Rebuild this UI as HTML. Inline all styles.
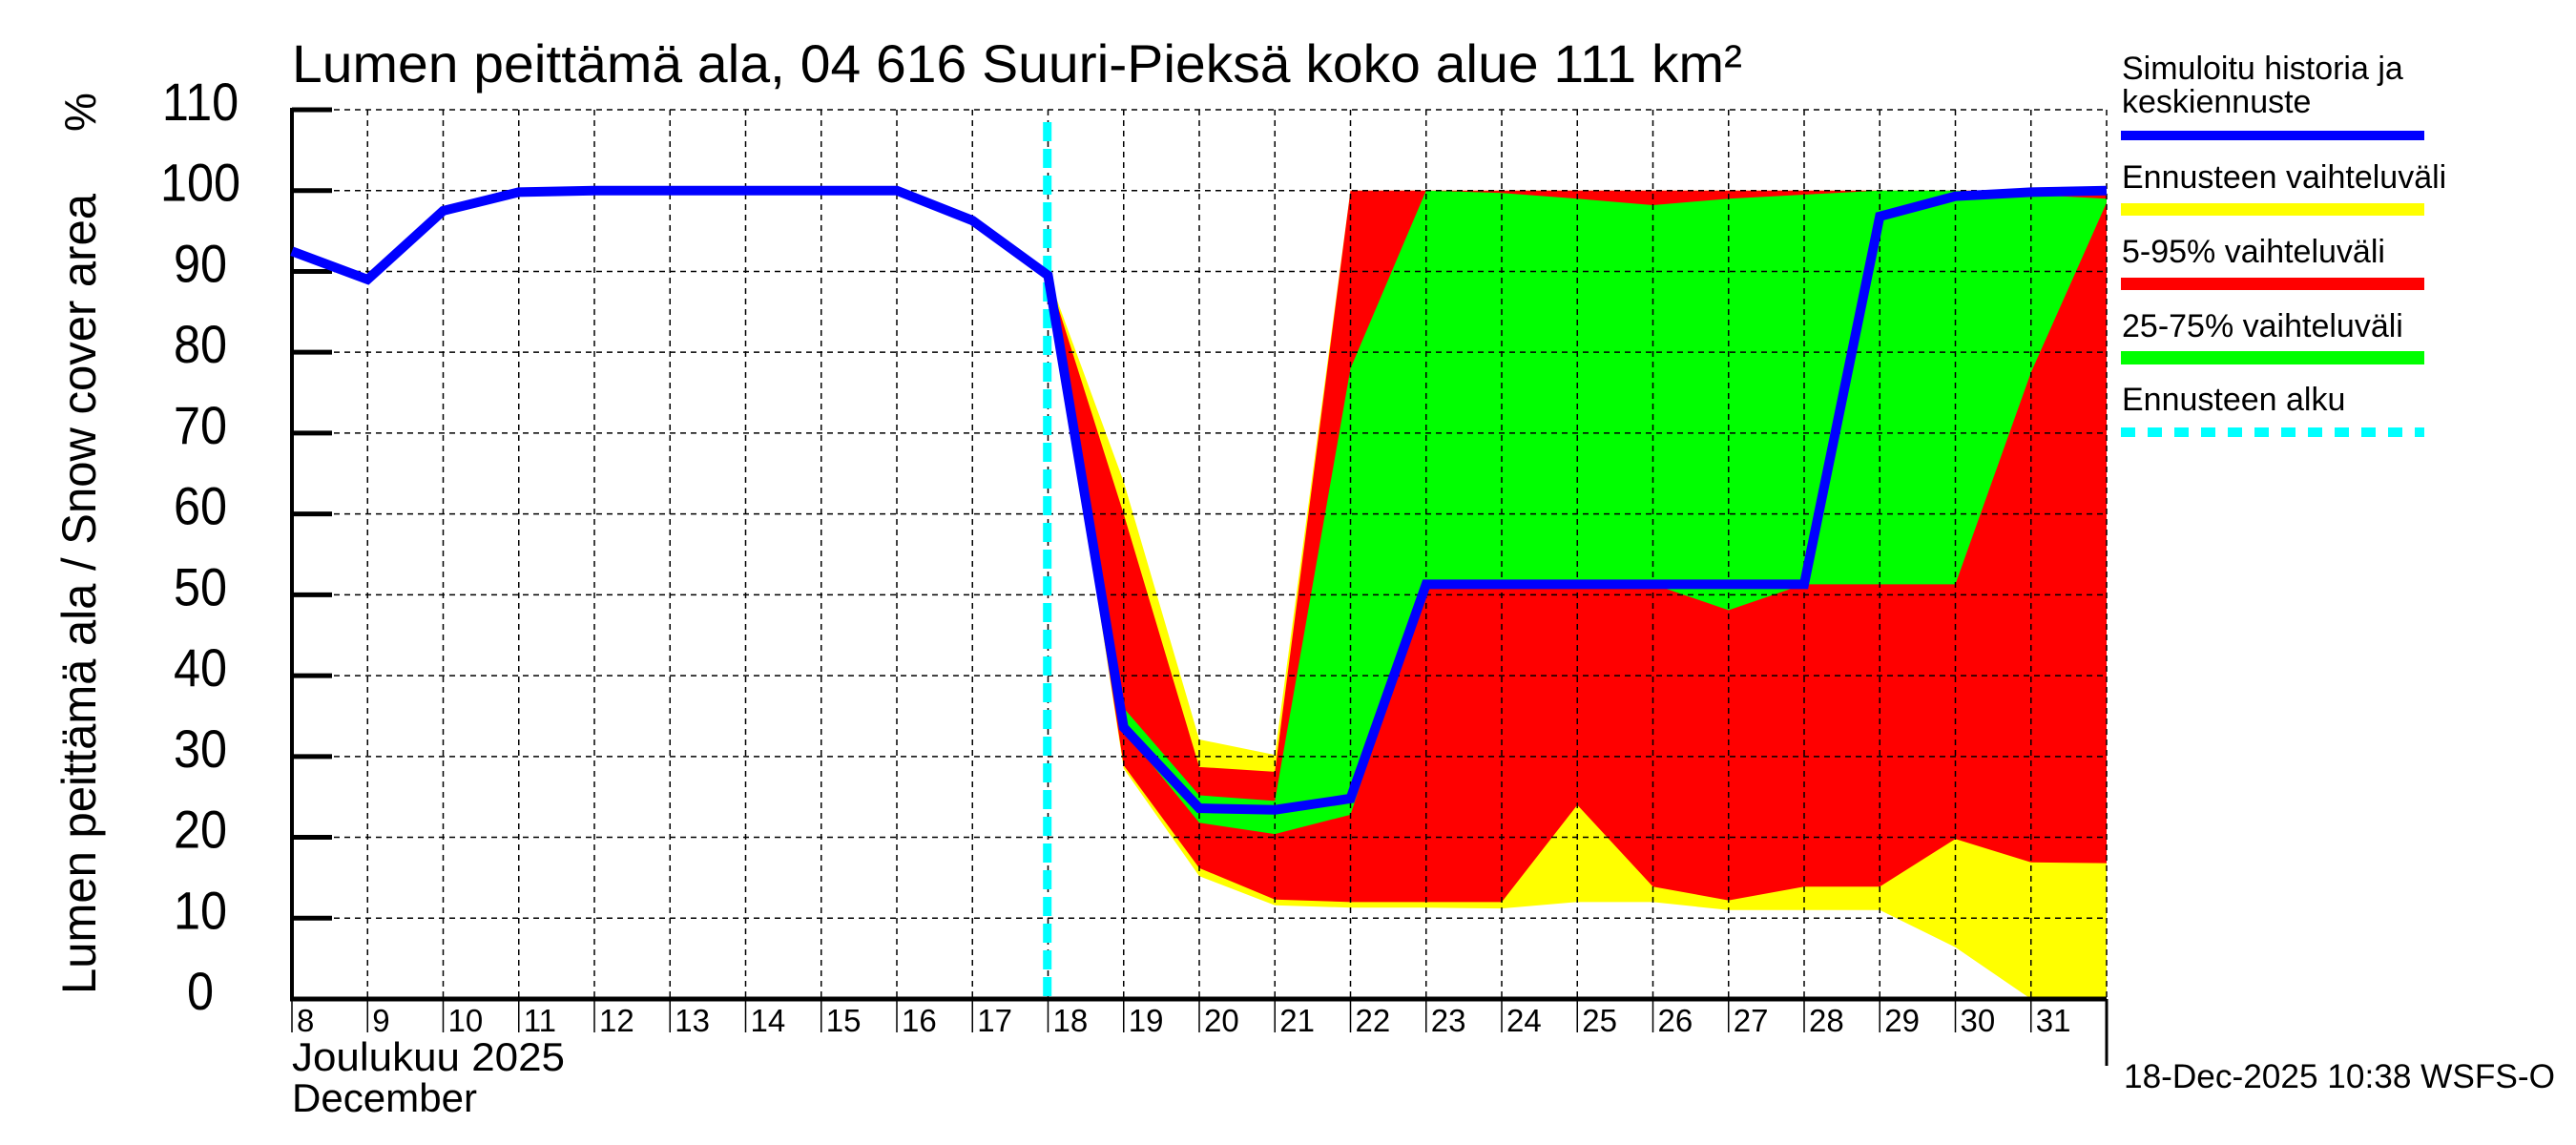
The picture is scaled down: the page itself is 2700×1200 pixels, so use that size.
<!DOCTYPE html>
<html><head><meta charset="utf-8">
<style>
html,body{margin:0;padding:0;background:#fff;}
svg{display:block;font-family:"Liberation Sans",sans-serif;}
</style></head>
<body>
<svg id="chart" width="2700" height="1200" viewBox="0 0 2700 1200" xmlns="http://www.w3.org/2000/svg">
  <rect x="0" y="0" width="2700" height="1200" fill="#fff"/>
  <g id="bands"></g>
  <g id="grid"></g>
  <g id="axes"></g>
  <g id="series"></g>
  <text x="306" y="86" font-size="56" textLength="1520" lengthAdjust="spacingAndGlyphs">Lumen peittämä ala, 04 616 Suuri-Pieksä koko alue 111 km²</text>
  <text transform="translate(100,1042) rotate(-90)" font-size="50" textLength="839" lengthAdjust="spacingAndGlyphs">Lumen peittämä ala / Snow cover area</text>
  <text transform="translate(100,138) rotate(-90)" font-size="46">%</text>
  <text x="306" y="1122" font-size="42" textLength="286" lengthAdjust="spacingAndGlyphs">Joulukuu  2025</text>
  <text x="306" y="1165" font-size="42" textLength="194" lengthAdjust="spacingAndGlyphs">December</text>
  <text x="2226" y="1140" font-size="35" textLength="452" lengthAdjust="spacingAndGlyphs">18-Dec-2025 10:38 WSFS-O</text>
  <g>
    <text x="2224" y="83" font-size="34">Simuloitu historia ja</text>
    <text x="2224" y="118" font-size="34">keskiennuste</text>
    <rect x="2223" y="137" width="318" height="10" fill="#0000ff"/>
    <text x="2224" y="197" font-size="34">Ennusteen vaihteluväli</text>
    <rect x="2223" y="213" width="318" height="13" fill="#ffff00"/>
    <text x="2224" y="275" font-size="34">5-95% vaihteluväli</text>
    <rect x="2223" y="291" width="318" height="13" fill="#ff0000"/>
    <text x="2224" y="353" font-size="34">25-75% vaihteluväli</text>
    <rect x="2223" y="368" width="318" height="14" fill="#00ff00"/>
    <text x="2224" y="430" font-size="34">Ennusteen alku</text>
    <line x1="2223" y1="453" x2="2541" y2="453" stroke="#00ffff" stroke-width="10" stroke-dasharray="15 13"/>
  </g>
</svg>
<script>
// Data (day index 0 = 8 Dec, 24 = 1 Jan)
const dayLabels = ["8","9","10","11","12","13","14","15","16","17","18","19","20","21","22","23","24","25","26","27","28","29","30","31"];
const yTicks = [0,10,20,30,40,50,60,70,80,90,100,110];
const medianValues = [92.5,89,97.5,99.8,100,100,100,100,100,96.3,89.5,33.6,23.6,23.4,24.8,51.3,51.3,51.3,51.3,51.3,51.3,96.8,99.3,99.8,100];
const bandStart = 10; // 18 Dec
const rangeMax = [89.5,64,32.1,30.2,100,100,100,100,100,100,100,100,100,100,100];
const rangeMin = [89.5,28.5,15.2,11.6,11.3,11.3,11.2,12,12,11,11,11,6.4,0,0];
const p95 = [89.5,60,28.7,28.1,100,100,100,100,100,100,100,100,100,100,100];
const p5 = [89.5,28.9,16.2,12.3,12,12,12,24,13.9,12.2,13.9,13.9,19.8,16.9,16.8];
const p75 = [89.5,36,25.2,24.5,78,100,99.7,99,98.2,99,99.5,100,100,99.5,99];
const p25 = [89.5,33.3,21.8,20.4,22.8,51.3,51.3,51.3,51.3,48.1,51.3,51.3,51.3,77.5,98.5];
const forecastStartDay = 9.99;

const X0 = 306, X1 = 2208, Y0 = 1047, Y110 = 115;
const NS = "http://www.w3.org/2000/svg";
function xs(d){ return X0 + d*(X1-X0)/24; }
function ys(v){ return Y0 - v*(Y0-Y110)/110; }
function mk(tag, attrs, parent){ const e=document.createElementNS(NS,tag); for(const k in attrs) e.setAttribute(k,attrs[k]); parent.appendChild(e); return e; }

const bands = document.getElementById('bands');
function band(upper, lower, color, name){
  let pts=[];
  for(let i=0;i<upper.length;i++) pts.push(xs(bandStart+i)+","+ys(upper[i]));
  for(let i=lower.length-1;i>=0;i--) pts.push(xs(bandStart+i)+","+ys(lower[i]));
  const p = mk('polygon',{points:pts.join(' '),fill:color},bands);
  
  
}
band(rangeMax, rangeMin, '#ffff00', 'band-forecast-range');
band(p95, p5, '#ff0000', 'band-5-95');
band(p75, p25, '#00ff00', 'band-25-75');

const grid = document.getElementById('grid');
for(let d=1; d<=24; d++){
  const l = mk('line',{x1:xs(d),x2:xs(d),y1:Y110,y2:Y0,stroke:'#000','stroke-width':1.5,'stroke-dasharray':'6 5'},grid);
  
  
}
yTicks.forEach(v=>{
  if(v===0) return;
  const l = mk('line',{x1:X0,x2:X1,y1:ys(v),y2:ys(v),stroke:'#000','stroke-width':1.5,'stroke-dasharray':'6 5'},grid);
  
  
});

const axes = document.getElementById('axes');
let a = mk('line',{x1:X0,x2:X0,y1:Y110-2,y2:Y0+2,stroke:'#000','stroke-width':4},axes);


a = mk('line',{x1:X0-2,x2:X1,y1:Y0,y2:Y0,stroke:'#000','stroke-width':5},axes);


a = mk('line',{x1:X1,x2:X1,y1:Y0,y2:1117,stroke:'#000','stroke-width':3},axes);


yTicks.forEach(v=>{
  const t = mk('line',{x1:X0,x2:348,y1:ys(v),y2:ys(v),stroke:'#000','stroke-width':5},axes);
  
  
  const tx = mk('text',{x:210,y:ys(v)+11,'font-size':56,'text-anchor':'middle'},axes);
  tx.setAttribute('transform','translate('+(210*0.1)+',0) scale(0.9,1)');
  tx.textContent = String(v);
  
  
});
dayLabels.forEach((lab,i)=>{
  const t = mk('line',{x1:xs(i),x2:xs(i),y1:Y0,y2:1082,stroke:'#000','stroke-width':1.5},axes);
  
  
  const tx = mk('text',{x:xs(i)+5,y:1081,'font-size':33},axes);
  tx.textContent = lab;
  
  
});

const series = document.getElementById('series');
const fs = mk('line',{x1:xs(forecastStartDay),x2:xs(forecastStartDay),y1:128,y2:Y0,stroke:'#00ffff','stroke-width':9,'stroke-dasharray':'20 8'},series);


const med = mk('polyline',{points:medianValues.map((v,i)=>xs(i)+","+ys(v)).join(' '),fill:'none',stroke:'#0000ff','stroke-width':10,'stroke-linejoin':'miter'},series);


</script>
</body></html>
